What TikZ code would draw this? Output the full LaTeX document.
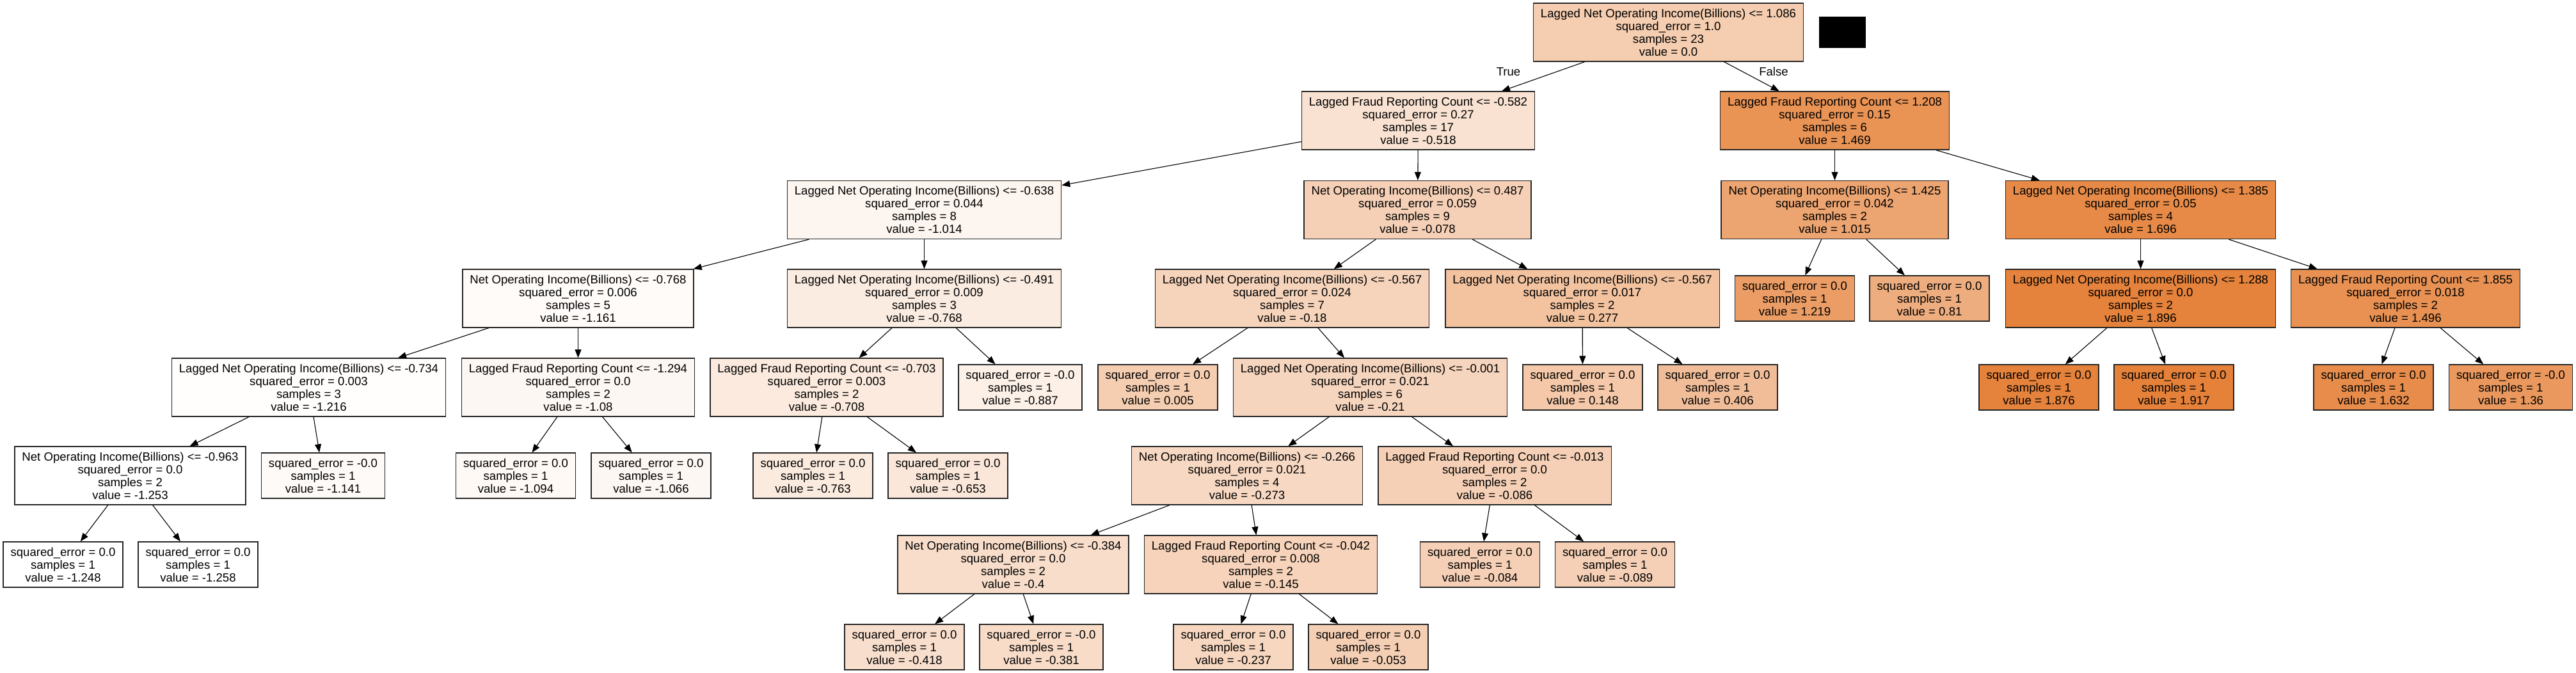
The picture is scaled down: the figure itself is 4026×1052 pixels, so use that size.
\documentclass[tikz,border=0pt]{standalone}
\usepackage{fontspec}
\setmainfont{Liberation Sans}
\usetikzlibrary{arrows.meta}
\definecolor{tree}{RGB}{229,129,57}

\begin{document}
\begin{tikzpicture}[
x=1pt, y=-1pt,
cond/.style={
  draw=black!85,
  line width=1.3pt,
  fill=tree!#1,
  rectangle,
  minimum height=91pt,
  inner xsep=11.5pt,
  inner ysep=0pt,
  align=center
  },
leaf/.style={
  cond=#1,
  minimum height=71pt
  },
lbl/.style={
  draw=none,
  fill=none
  },
link/.style={->, line width=1.1pt},
font=\fontsize{18.6}{20}\selectfont,
>={Triangle[length=13pt,width=10pt]}]

\fill[white] (0,0) rectangle (4026,1052);
\useasboundingbox (0,0) rectangle (4026,1052);

% root and its redacted tag
\node[cond=40] (n0) at (2607.5,50.5) {Lagged Net Operating Income(Billions) <= 1.086\\squared\_error = 1.0\\samples = 23\\value = 0.0};
\node[fill=black, minimum width=73pt, minimum height=49pt, inner sep=0pt] (blot) at (2879.5,50.5) {};

% left branch
\node[cond=23] (n1) at (2216.5,188.5) {Lagged Fraud Reporting Count <= -0.582\\squared\_error = 0.27\\samples = 17\\value = -0.518};
\node[cond=8] (n2) at (1444.5,328) {Lagged Net Operating Income(Billions) <= -0.638\\squared\_error = 0.044\\samples = 8\\value = -1.014};
\node[cond=3] (n3) at (903.5,466.5) {Net Operating Income(Billions) <= -0.768\\squared\_error = 0.006\\samples = 5\\value = -1.161};
\node[cond=1] (n4) at (482.5,605.5) {Lagged Net Operating Income(Billions) <= -0.734\\squared\_error = 0.003\\samples = 3\\value = -1.216};
\node[cond=0] (n5) at (203.5,743.5) {Net Operating Income(Billions) <= -0.963\\squared\_error = 0.0\\samples = 2\\value = -1.253};
\node[leaf=0] (n6) at (98.5,882.5) {squared\_error = 0.0\\samples = 1\\value = -1.248};
\node[leaf=0] (n7) at (309.5,882.5) {squared\_error = 0.0\\samples = 1\\value = -1.258};
\node[leaf=4] (n8) at (505,743.5) {squared\_error = -0.0\\samples = 1\\value = -1.141};
\node[cond=6] (n9) at (903.5,605.5) {Lagged Fraud Reporting Count <= -1.294\\squared\_error = 0.0\\samples = 2\\value = -1.08};
\node[leaf=5] (n10) at (806,743.5) {squared\_error = 0.0\\samples = 1\\value = -1.094};
\node[leaf=6] (n11) at (1017.5,743.5) {squared\_error = 0.0\\samples = 1\\value = -1.066};
\node[cond=15] (n12) at (1444.5,466.5) {Lagged Net Operating Income(Billions) <= -0.491\\squared\_error = 0.009\\samples = 3\\value = -0.768};
\node[cond=17] (n13) at (1292,605.5) {Lagged Fraud Reporting Count <= -0.703\\squared\_error = 0.003\\samples = 2\\value = -0.708};
\node[leaf=16] (n14) at (1270.5,743.5) {squared\_error = 0.0\\samples = 1\\value = -0.763};
\node[leaf=19] (n15) at (1481.5,743.5) {squared\_error = 0.0\\samples = 1\\value = -0.653};
\node[leaf=12] (n16) at (1594.5,605.5) {squared\_error = -0.0\\samples = 1\\value = -0.887};
\node[cond=37] (n17) at (2215.5,328) {Net Operating Income(Billions) <= 0.487\\squared\_error = 0.059\\samples = 9\\value = -0.078};
\node[cond=34] (n18) at (2019.5,466.5) {Lagged Net Operating Income(Billions) <= -0.567\\squared\_error = 0.024\\samples = 7\\value = -0.18};
\node[leaf=40] (n19) at (1809.5,605.5) {squared\_error = 0.0\\samples = 1\\value = 0.005};
\node[cond=33] (n20) at (2141.5,605.5) {Lagged Net Operating Income(Billions) <= -0.001\\squared\_error = 0.021\\samples = 6\\value = -0.21};
\node[cond=31] (n21) at (1949,743.5) {Net Operating Income(Billions) <= -0.266\\squared\_error = 0.021\\samples = 4\\value = -0.273};
\node[cond=27] (n22) at (1583.5,882.5) {Net Operating Income(Billions) <= -0.384\\squared\_error = 0.0\\samples = 2\\value = -0.4};
\node[leaf=26] (n23) at (1413.5,1011.5) {squared\_error = 0.0\\samples = 1\\value = -0.418};
\node[leaf=28] (n24) at (1627.5,1011.5) {squared\_error = -0.0\\samples = 1\\value = -0.381};
\node[cond=35] (n25) at (1970.5,882.5) {Lagged Fraud Reporting Count <= -0.042\\squared\_error = 0.008\\samples = 2\\value = -0.145};
\node[leaf=32] (n26) at (1927.5,1011.5) {squared\_error = 0.0\\samples = 1\\value = -0.237};
\node[leaf=38] (n27) at (2138.5,1011.5) {squared\_error = 0.0\\samples = 1\\value = -0.053};
\node[cond=37] (n28) at (2336,743.5) {Lagged Fraud Reporting Count <= -0.013\\squared\_error = 0.0\\samples = 2\\value = -0.086};
\node[leaf=37] (n29) at (2313,882.5) {squared\_error = 0.0\\samples = 1\\value = -0.084};
\node[leaf=37] (n30) at (2524,882.5) {squared\_error = 0.0\\samples = 1\\value = -0.089};
\node[cond=48] (n31) at (2473,466.5) {Lagged Net Operating Income(Billions) <= -0.567\\squared\_error = 0.017\\samples = 2\\value = 0.277};
\node[leaf=44] (n32) at (2473.5,605.5) {squared\_error = 0.0\\samples = 1\\value = 0.148};
\node[leaf=52] (n33) at (2684.5,605.5) {squared\_error = 0.0\\samples = 1\\value = 0.406};

% right branch
\node[cond=86] (n34) at (2867.5,188.5) {Lagged Fraud Reporting Count <= 1.208\\squared\_error = 0.15\\samples = 6\\value = 1.469};
\node[cond=72] (n35) at (2867.5,328) {Net Operating Income(Billions) <= 1.425\\squared\_error = 0.042\\samples = 2\\value = 1.015};
\node[leaf=78] (n36) at (2805,466.5) {squared\_error = 0.0\\samples = 1\\value = 1.219};
\node[leaf=65] (n37) at (3015.5,466.5) {squared\_error = 0.0\\samples = 1\\value = 0.81};
\node[cond=93] (n38) at (3345.5,328) {Lagged Net Operating Income(Billions) <= 1.385\\squared\_error = 0.05\\samples = 4\\value = 1.696};
\node[cond=99] (n39) at (3345.5,466.5) {Lagged Net Operating Income(Billions) <= 1.288\\squared\_error = 0.0\\samples = 2\\value = 1.896};
\node[leaf=99] (n40) at (3186.5,605.5) {squared\_error = 0.0\\samples = 1\\value = 1.876};
\node[leaf=100] (n41) at (3397.5,605.5) {squared\_error = 0.0\\samples = 1\\value = 1.917};
\node[cond=87] (n42) at (3759.5,466.5) {Lagged Fraud Reporting Count <= 1.855\\squared\_error = 0.018\\samples = 2\\value = 1.496};
\node[leaf=91] (n43) at (3709.5,605.5) {squared\_error = 0.0\\samples = 1\\value = 1.632};
\node[leaf=82] (n44) at (3924,605.5) {squared\_error = -0.0\\samples = 1\\value = 1.36};

\node[lbl] (tru) at (2357.5,112) {True};
\node[lbl] (fls) at (2772,112) {False};

\foreach \pa/\ch in {0/1,0/34,1/2,1/17,2/3,2/12,3/4,3/9,4/5,4/8,5/6,5/7,
  9/10,9/11,12/13,12/16,13/14,13/15,17/18,17/31,18/19,18/20,20/21,20/28,
  21/22,21/25,22/23,22/24,25/26,25/27,28/29,28/30,31/32,31/33,
  34/35,34/38,35/36,35/37,38/39,38/42,39/40,39/41,42/43,42/44}
  \draw[link] (n\pa) -- (n\ch);

\end{tikzpicture}
\end{document}
